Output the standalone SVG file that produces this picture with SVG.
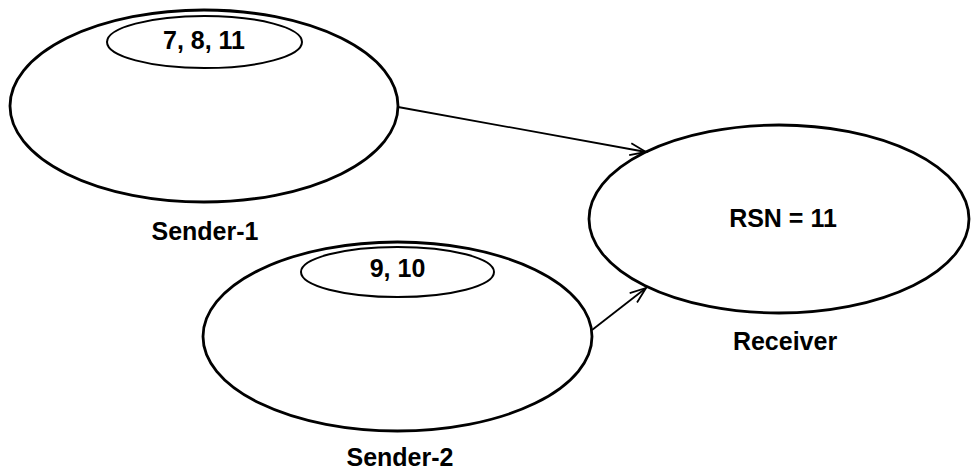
<svg xmlns="http://www.w3.org/2000/svg" width="971" height="471" viewBox="0 0 971 471">
<style>
.outer{fill:none;stroke:#000;stroke-width:2.8}
.inner{fill:none;stroke:#000;stroke-width:2}
.edge{fill:none;stroke:#000;stroke-width:1.8}
text{font-family:"Liberation Sans",Arial,sans-serif;font-size:25px;font-weight:bold;fill:#000;text-anchor:middle}
</style>
<defs>
<marker id="arr" markerUnits="userSpaceOnUse" markerWidth="24" markerHeight="20" viewBox="-20 -10 24 20" refX="0" refY="0" orient="auto">
<path d="M-16,-6 L0,0 L-16,6" fill="none" stroke="#000" stroke-width="1.8"/>
</marker>
</defs>
<g id="connectors">
<line class="edge" x1="398" y1="107" x2="646" y2="152" marker-end="url(#arr)"/>
<line class="edge" x1="592" y1="330" x2="646" y2="288" marker-end="url(#arr)"/>
</g>
<g id="sender1">
<ellipse class="outer" cx="204" cy="106" rx="194" ry="96"/>
<ellipse class="inner" cx="204.5" cy="42" rx="97.5" ry="26"/>
<text x="204" y="49">7, 8, 11</text>
<text x="205" y="240">Sender-1</text>
</g>
<g id="sender2">
<ellipse class="outer" cx="397.5" cy="336.5" rx="194.5" ry="94.5"/>
<ellipse class="inner" cx="397.5" cy="272" rx="96.5" ry="25"/>
<text x="397.5" y="277">9, 10</text>
<text x="400" y="466">Sender-2</text>
</g>
<g id="receiver">
<ellipse class="outer" cx="779" cy="219" rx="190" ry="94"/>
<text x="783" y="227">RSN = 11</text>
<text x="785" y="350">Receiver</text>
</g>
</svg>
